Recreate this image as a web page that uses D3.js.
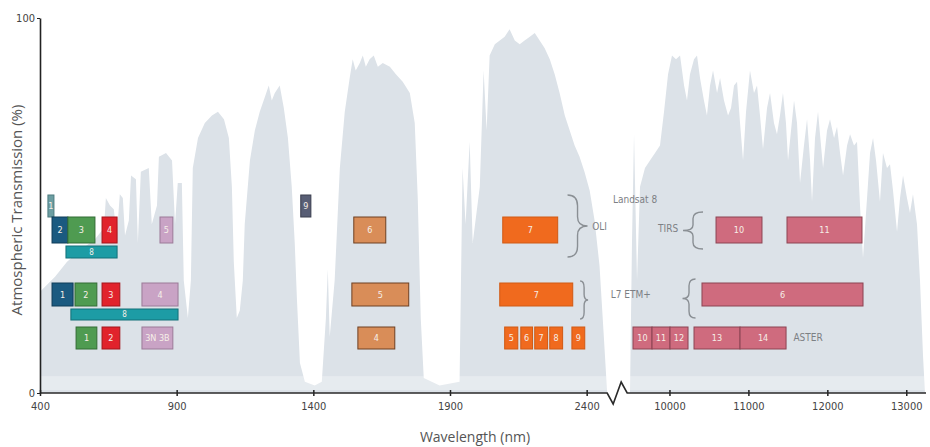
<!DOCTYPE html>
<html>
<head>
<meta charset="utf-8">
<script src="https://cdn.jsdelivr.net/npm/d3@7"></script>
<style>
  body { margin: 0; background: #fff; }
  svg { display: block; }
  text { font-family: "Liberation Sans Narrow", "DejaVu Sans Condensed", "Open Sans", sans-serif; }
</style>
</head>
<body>
<div id="chart"></div>
<script>
// atmospheric transmission (%), [wavelength nm, percent]
var reflective = [
  [400, 27], [455, 31], [499, 35], [546, 38], [601, 41], [634, 44], [641, 52], [656, 50],
  [670, 49], [681, 42], [692, 53], [703, 52], [711, 42], [725, 46], [733, 58], [751, 57],
  [758, 40], [769, 59], [798, 60], [809, 45], [828, 50], [835, 63], [861, 64], [883, 62],
  [894, 45], [904, 56], [919, 56], [926, 30], [941, 20], [952, 30], [959, 60], [978, 68],
  [1003, 72], [1029, 74], [1051, 75], [1073, 73], [1091, 68], [1102, 55], [1109, 35],
  [1120, 20], [1131, 22], [1142, 30], [1149, 45], [1168, 62], [1186, 70], [1204, 75],
  [1223, 79], [1237, 82], [1248, 78], [1259, 80], [1277, 82], [1292, 76], [1307, 68],
  [1321, 55], [1332, 40], [1340, 25], [1351, 8], [1369, 3], [1405, 2], [1431, 3],
  [1446, 20], [1453, 33], [1460, 15], [1478, 30], [1497, 60], [1515, 75], [1533, 84],
  [1544, 89], [1555, 86], [1570, 88], [1581, 90], [1592, 87], [1606, 89], [1621, 90],
  [1636, 87], [1654, 88], [1680, 87], [1702, 85], [1727, 83], [1753, 80], [1771, 72],
  [1782, 52], [1793, 20], [1804, 4], [1862, 2], [1935, 3], [1946, 60], [1957, 45],
  [1972, 67], [1983, 40], [2009, 55], [2023, 86], [2034, 70], [2045, 90], [2064, 93],
  [2082, 94], [2100, 95], [2118, 97], [2137, 94], [2155, 93], [2173, 94], [2192, 95],
  [2210, 96], [2228, 94], [2246, 92], [2265, 89], [2283, 85], [2301, 80], [2320, 74],
  [2338, 70], [2356, 66], [2374, 63], [2392, 59], [2411, 54], [2429, 46], [2447, 34],
  [2462, 16], [2475, 0]
];

var thermal = [
  [9500, 0], [9525, 40], [9551, 69], [9589, 30], [9627, 55], [9690, 60], [9753, 62],
  [9817, 64], [9880, 66], [9931, 75], [9982, 85], [10032, 90], [10083, 89], [10134, 90],
  [10185, 82], [10222, 78], [10260, 85], [10311, 89], [10349, 90], [10387, 84],
  [10437, 78], [10475, 74], [10514, 82], [10552, 86], [10603, 80], [10641, 84],
  [10691, 78], [10742, 74], [10780, 76], [10818, 82], [10856, 83], [10894, 72],
  [10932, 62], [10970, 75], [11020, 86], [11071, 80], [11109, 82], [11147, 74],
  [11185, 65], [11236, 76], [11274, 80], [11324, 72], [11362, 69], [11400, 74],
  [11438, 80], [11476, 72], [11502, 62], [11540, 70], [11578, 78], [11616, 72],
  [11654, 56], [11704, 66], [11743, 73], [11781, 62], [11806, 51], [11844, 68],
  [11882, 75], [11920, 66], [11946, 60], [11996, 70], [12034, 73], [12085, 68],
  [12123, 71], [12161, 64], [12199, 58], [12250, 66], [12288, 69], [12338, 66],
  [12376, 67], [12414, 50], [12452, 36], [12503, 52], [12541, 64], [12579, 68],
  [12617, 62], [12667, 51], [12705, 64], [12756, 60], [12794, 61], [12832, 54],
  [12883, 43], [12921, 52], [12959, 58], [13009, 52], [13047, 48], [13085, 53],
  [13136, 45], [13174, 30], [13212, 10], [13237, 0]
];

// sensor bands: label, start nm, end nm, kind, row
var oliBands = [
  ["1", 429, 451, "coastal", "top"], ["2", 444, 502, "blue", "mid"], ["3", 502, 601, "green", "mid"],
  ["4", 627, 682, "red", "mid"], ["5", 839, 886, "nir", "mid"], ["6", 1548, 1665, "swir1", "mid"],
  ["7", 2093, 2294, "swir2", "mid"], ["8", 495, 682, "pan", "pan"], ["9", 1354, 1391, "cirrus", "top"]
];
var tirsBands = [["10", 10590, 11172, "tir"], ["11", 11489, 12439, "tir"]];
var etmBands = [
  ["1", 444, 521, "blue", "mid"], ["2", 528, 608, "green", "mid"], ["3", 627, 692, "red", "mid"],
  ["4", 773, 905, "nir", "mid"], ["5", 1541, 1749, "swir1", "mid"], ["7", 2082, 2349, "swir2", "mid"],
  ["6", 10412, 12452, "tir", "mid"], ["8", 513, 905, "pan", "pan"]
];
var asterBands = [
  ["1", 532, 608, "green"], ["2", 627, 692, "red"], ["3N 3B", 773, 886, "nir"], ["4", 1563, 1698, "swir1"],
  ["5", 2100, 2148, "swir2"], ["6", 2159, 2202, "swir2"], ["7", 2210, 2257, "swir2"],
  ["8", 2265, 2312, "swir2"], ["9", 2346, 2393, "swir2"],
  ["10", 9538, 9779, "tir"], ["11", 9779, 10007, "tir"], ["12", 10007, 10235, "tir"],
  ["13", 10311, 10894, "tir"], ["14", 10894, 11477, "tir"]
];

var ticksLeft = [400, 900, 1400, 1900, 2400];
var ticksRight = [10000, 11000, 12000, 13000];

var palette = {
  coastal: ["#6c9ea2", "#4c7b7f"], blue: ["#1b5a80", "#0f3c58"], green: ["#4f9b51", "#336c35"],
  red: ["#e1232c", "#a3151b"], nir: ["#c9a3c5", "#9b7a98"], pan: ["#1d9ca5", "#137078"],
  cirrus: ["#585e75", "#3a3e4f"], swir1: ["#d98d58", "#6e4022"], swir2: ["#f06a1e", "#d05a14"],
  tir: ["#cf6b7e", "#8c4453"]
};

var width = 930, height = 447;

var svg = d3.select("#chart").append("svg")
  .attr("width", width)
  .attr("height", height);

var xL = d3.scaleLinear().domain([400, 2500]).range([40, 614]);
var xR = d3.scaleLinear().domain([9500, 13250]).range([630, 926]);
var y = d3.scaleLinear().domain([0, 100]).range([393, 18]);
var x = function(w) { return w <= 2600 ? xL(w) : xR(w); };

var blur = svg.append("defs").append("filter").attr("id", "soft");
blur.append("feGaussianBlur").attr("stdDeviation", 0.7);

var area = d3.area()
  .x(function(d) { return x(d[0]); })
  .y0(y(0))
  .y1(function(d) { return y(d[1]); });

svg.selectAll("path.spec")
  .data([reflective, thermal])
  .enter().append("path")
  .attr("class", "spec")
  .attr("d", area)
  .attr("fill", "#dce2e8")
  .attr("filter", "url(#soft)");

// lighter strip at the base of the curve
svg.append("rect")
  .attr("x", 40).attr("y", y(4.5))
  .attr("width", 886).attr("height", y(0.8) - y(4.5))
  .attr("fill", "#fff").attr("opacity", 0.3);

// band boxes
var rowY = {
  oli: { top: [195, 22], mid: [217, 26], pan: [246, 12] },
  etm: { mid: [283, 23], pan: [309, 11] },
  aster: { mid: [327, 22] }
};

function drawBands(list, rows) {
  var g = svg.append("g");
  var b = g.selectAll("g").data(list).enter().append("g");
  b.append("rect")
    .attr("x", function(d) { return x(d[1]); })
    .attr("y", function(d) { return rows[d[4] || "mid"][0]; })
    .attr("width", function(d) { return x(d[2]) - x(d[1]); })
    .attr("height", function(d) { return rows[d[4] || "mid"][1]; })
    .attr("fill", function(d) { return palette[d[3]][0]; })
    .attr("stroke", function(d) { return palette[d[3]][1]; })
    .attr("stroke-width", 1);
  b.append("text")
    .attr("x", function(d) { return (x(d[1]) + x(d[2])) / 2; })
    .attr("y", function(d) { var r = rows[d[4] || "mid"]; return r[0] + r[1] / 2; })
    .attr("dy", "0.35em")
    .attr("text-anchor", "middle")
    .attr("font-size", function(d) { return d[4] === "pan" ? 8 : 9; })
    .attr("fill", "#f6efe8")
    .text(function(d) { return d[0]; });
}
drawBands(oliBands, rowY.oli);
drawBands(tirsBands, rowY.oli);
drawBands(etmBands, rowY.etm);
drawBands(asterBands, rowY.aster);

// curly braces: back edge at bx, tip at bx + w
function brace(bx, y0, y1, w) {
  var ym = (y0 + y1) / 2, h = w / 2;
  return "M" + bx + "," + y0 +
    " Q" + (bx + h) + "," + y0 + " " + (bx + h) + "," + (y0 + (ym - y0) * 0.35) +
    " L" + (bx + h) + "," + (ym - (ym - y0) * 0.3) +
    " Q" + (bx + h) + "," + ym + " " + (bx + w) + "," + ym +
    " Q" + (bx + h) + "," + ym + " " + (bx + h) + "," + (ym + (y1 - ym) * 0.3) +
    " L" + (bx + h) + "," + (y1 - (y1 - ym) * 0.35) +
    " Q" + (bx + h) + "," + y1 + " " + bx + "," + y1;
}
var bg = svg.append("g").attr("fill", "none").attr("stroke", "#8a8f94").attr("stroke-width", 1.4);
bg.append("path").attr("d", brace(xL(2330), 195, 257, 20));
bg.append("path").attr("d", brace(xL(2376), 281, 319, 8));
bg.append("path").attr("d", brace(xR(10425), 212, 249, -20));
bg.append("path").attr("d", brace(xR(10330), 279, 318, -13));

var notes = [
  ["Landsat 8", xL(2496), 203, "start"],
  ["OLI", xL(2420), 230, "start"],
  ["TIRS", xR(10110), 232, "end"],
  ["L7 ETM+", xL(2488), 298, "start"],
  ["ASTER", xR(11570), 341, "start"]
];
svg.selectAll("text.note").data(notes).enter().append("text")
  .attr("class", "note")
  .attr("x", function(d) { return d[1]; })
  .attr("y", function(d) { return d[2]; })
  .attr("text-anchor", function(d) { return d[3]; })
  .attr("font-size", 10)
  .attr("fill", "#7c8084")
  .text(function(d) { return d[0]; });

// axes
var axL = svg.append("g").attr("transform", "translate(0,390)")
  .call(d3.axisBottom(xL).tickValues(ticksLeft).tickSize(6).tickPadding(6).tickFormat(d3.format("d")));
var axR = svg.append("g").attr("transform", "translate(0,390)")
  .call(d3.axisBottom(xR).tickValues(ticksRight).tickSize(6).tickPadding(6).tickFormat(d3.format("d")));
[axL, axR].forEach(function(a) {
  a.select(".domain").remove();
  a.selectAll(".tick line").attr("stroke", "#222").attr("stroke-width", 1.5);
  a.selectAll(".tick text").attr("font-size", 11).attr("fill", "#444")
    .style("font-family", "'Liberation Sans Narrow', 'DejaVu Sans Condensed', sans-serif");
});

svg.append("path")
  .attr("d", "M40,393 L" + xL(2475) + ",393 l6,11 l8,-22 l6,11 L926,393")
  .attr("fill", "none").attr("stroke", "#2a2a2a").attr("stroke-width", 1.6);

var axY = svg.append("g").attr("transform", "translate(40,0)")
  .call(d3.axisLeft(y).tickValues([0, 100]).tickSize(3).tickSizeOuter(0).tickPadding(2));
axY.select(".domain").attr("stroke", "#222").attr("stroke-width", 1.6);
axY.selectAll(".tick line").attr("stroke", "#222");
axY.selectAll(".tick text").attr("font-size", 11).attr("fill", "#444")
  .style("font-family", "'Liberation Sans Narrow', 'DejaVu Sans Condensed', sans-serif");

svg.append("text")
  .attr("transform", "translate(22,210) rotate(-90)")
  .attr("text-anchor", "middle")
  .attr("font-size", 15)
  .attr("fill", "#555")
  .style("font-family", "'Open Sans', sans-serif")
  .text("Atmospheric Transmission (%)");

svg.append("text")
  .attr("x", 475).attr("y", 442)
  .attr("text-anchor", "middle")
  .attr("font-size", 14)
  .attr("fill", "#555")
  .style("font-family", "'Open Sans', sans-serif")
  .text("Wavelength (nm)");
</script>
</body>
</html>
